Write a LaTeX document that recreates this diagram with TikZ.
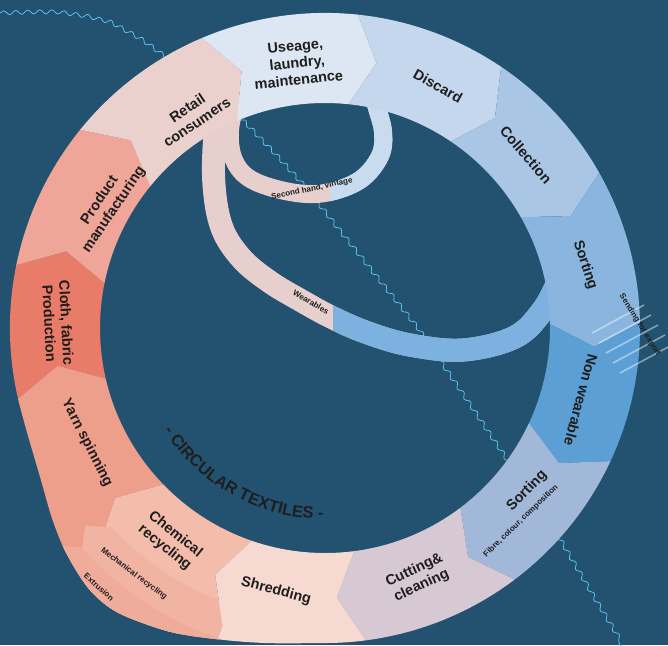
\documentclass[tikz,border=0pt]{standalone}
\usepackage{fontspec}
\setmainfont{Liberation Sans}
\usetikzlibrary{decorations.pathmorphing,decorations.text}
\definecolor{bg}{HTML}{22526F}
\definecolor{ink}{HTML}{1E1E1E}
\definecolor{wavec}{HTML}{5AC8F2}
\definecolor{cCloth}{HTML}{E97B69}
\definecolor{cProd}{HTML}{EFA597}
\definecolor{cRetail}{HTML}{EBD1CE}
\definecolor{cUse}{HTML}{DDE7F3}
\definecolor{cDisc}{HTML}{C4D7EC}
\definecolor{cColl}{HTML}{A9C6E5}
\definecolor{cSort}{HTML}{89B5DE}
\definecolor{cNon}{HTML}{5C9FD4}
\definecolor{cSortb}{HTML}{A2B8D9}
\definecolor{cCut}{HTML}{D7C9D3}
\definecolor{cShred}{HTML}{F6D9D0}
\definecolor{cChem}{HTML}{F4BDAB}
\definecolor{cMech}{HTML}{F2B4A2}
\definecolor{cExt}{HTML}{EFAC9A}
\definecolor{cYarn}{HTML}{EE9F8C}
\definecolor{loopP}{HTML}{E7CFCD}
\definecolor{loopB}{HTML}{7DB1DF}
\definecolor{loopL}{HTML}{C9DBEF}
\newcommand\segw[3]{\fill[#3] (#1:150) -- (#1:225) -- ({#1+5}:270) -- (#1:315) -- (#1:440) -- ({(#1+#2)/2}:450) -- (#2:440) -- (#2:315) -- ({#2+5}:270) -- (#2:225) -- (#2:150) -- cycle;}
\begin{document}
\begin{tikzpicture}[x=1pt,y=-1pt,
  lab/.style={font=\bfseries\fontsize{14.5}{17}\selectfont, text=ink, align=center, inner sep=0pt},
  tinylab/.style={font=\bfseries\fontsize{8}{9}\selectfont, text=ink, inner sep=0pt},
  wave/.style={draw=wavec, line width=0.75pt, decorate, decoration={snake, amplitude=2pt, segment length=12pt}},
  stripe/.style={draw=white, draw opacity=0.45, line width=1.6pt}]
\useasboundingbox (0,0) rectangle (668,645);
\fill[bg] (0,0) rectangle (668,645);
% wavy line
\draw[wave] (0,13) -- (30,12) -- (55,12) -- (82,16) -- (110,23) -- (137,38) -- (163,57) -- (203,89) -- (243,123) -- (273,154) -- (303,187) -- (337,230) -- (377,280) -- (417,330) -- (460,393) -- (503,457) -- (531,500) -- (560,543) -- (590,594) -- (624,650);
% second-hand loop
\draw[line width=18pt, loopP] plot[smooth, tension=0.6] coordinates {(238,95) (230,130) (234,160) (252,180) (290,192) (325,193) (360,180) (380,156) (383,132) (377,108) (372,92)};
\begin{scope}
\clip (330,0) rectangle (668,645);
\draw[line width=18pt, loopL] plot[smooth, tension=0.6] coordinates {(238,95) (230,130) (234,160) (252,180) (290,192) (325,193) (360,180) (380,156) (383,132) (377,108) (372,92)};
\end{scope}
% big loop (wearables)
\draw[line width=23pt, loopP] plot[smooth, tension=0.6] coordinates {(222,95) (215,135) (214,185) (222,228) (242,259) (270,282) (300,300) (333,318) (368,333) (410,345) (463,350) (515,337) (543,310) (558,282)};
\begin{scope}
\clip (333,0) rectangle (668,645);
\draw[line width=23pt, loopB] plot[smooth, tension=0.6] coordinates {(222,95) (215,135) (214,185) (222,228) (242,259) (270,282) (300,300) (333,318) (368,333) (410,345) (463,350) (515,337) (543,310) (558,282)};
\end{scope}
% ring
\begin{scope}[shift={(325,328)}]
\clip (165:315) arc[start angle=165, end angle=450, radius=315] -- plot[smooth] coordinates {(90:315) (100:320) (108:328) (117:341) (126:352) (132:352) (139:343) (145:333) (152:322) (160:316) (165:315)} -- cycle
  (0:225) arc[start angle=360, end angle=0, radius=225] -- cycle;
\segw{167}{191.5}{cCloth}
\segw{191.5}{219}{cProd}
\segw{219}{247}{cRetail}
\segw{247}{276}{cUse}
\segw{276}{304}{cDisc}
\segw{304}{330.5}{cColl}
\segw{330.5}{359}{cSort}
\segw{359}{385}{cNon}
\segw{385}{413}{cSortb}
\segw{413}{442.5}{cCut}
\segw{496}{527}{cYarn}
\segw{469}{496}{cChem}
\fill[cMech] (469:292) arc[start angle=469, end angle=497, radius=292] -- (500.5:311) -- (497.5:330) -- (497.5:440) -- (469:440) -- cycle;
\fill[cExt] (469:328) arc[start angle=469, end angle=498, radius=328] -- (501:345) -- (498:365) -- (498:440) -- (469:440) -- cycle;
\segw{442.5}{469}{cShred}
\end{scope}
% stripes
\foreach \k in {0,...,4} {
  \draw[stripe] ({592+7*\k},{333+10*\k}) -- ++(52,-28);
}
% circular title
\begin{scope}[shift={(325,328)}]
\path[decorate, decoration={text along path, text color=ink, text align=center,
  text={|\bfseries\fontsize{16.5}{17}\selectfont|- CIRCULAR TEXTILES -}}]
  (154:191) arc[start angle=154, end angle=84, radius=191];
\end{scope}
% labels
\node[lab, rotate=6] (use) at (297,63) {Useage,\\laundry,\\maintenance};
\node[lab, rotate=34] (retail) at (192,115) {Retail\\consumers};
\node[lab, rotate=56] (prod) at (107,205) {Product\\manufacturing};
\node[lab, rotate=-87] (cloth) at (58,323) {Cloth, fabric\\Production};
\node[lab, rotate=-63] (yarn) at (87,443) {Yarn spinning};
\node[lab, rotate=-39] (chem) at (170,541) {Chemical\\recycling};
\node[tinylab, rotate=-37] (mech) at (134,574) {Mechanical recycling};
\node[tinylab, rotate=-42] (extr) at (99,587) {Extrusion};
\node[lab, rotate=-15] (shred) at (276,591) {Shredding};
\node[lab, rotate=25] (cut) at (418,578) {Cutting\&\\cleaning};
\node[lab, rotate=46] (sortb) at (527,491) {Sorting};
\node[tinylab, rotate=44] (fibre) at (521,521) {Fibre, colour, composition};
\node[lab, rotate=-105] (non) at (581,400) {Non wearable};
\node[lab, rotate=-72] (sorta) at (585,265) {Sorting};
\node[lab, rotate=-49] (coll) at (526,155) {Collection};
\node[lab, rotate=-29] (disc) at (438,86) {Discard};
\node[tinylab, rotate=12] (second) at (312,189) {Second hand, vintage};
\node[tinylab, rotate=-30] (wear) at (311,302) {Wearables};
\node[tinylab, rotate=-58] (send) at (640,325) {Sending for export};
\end{tikzpicture}
\end{document}
